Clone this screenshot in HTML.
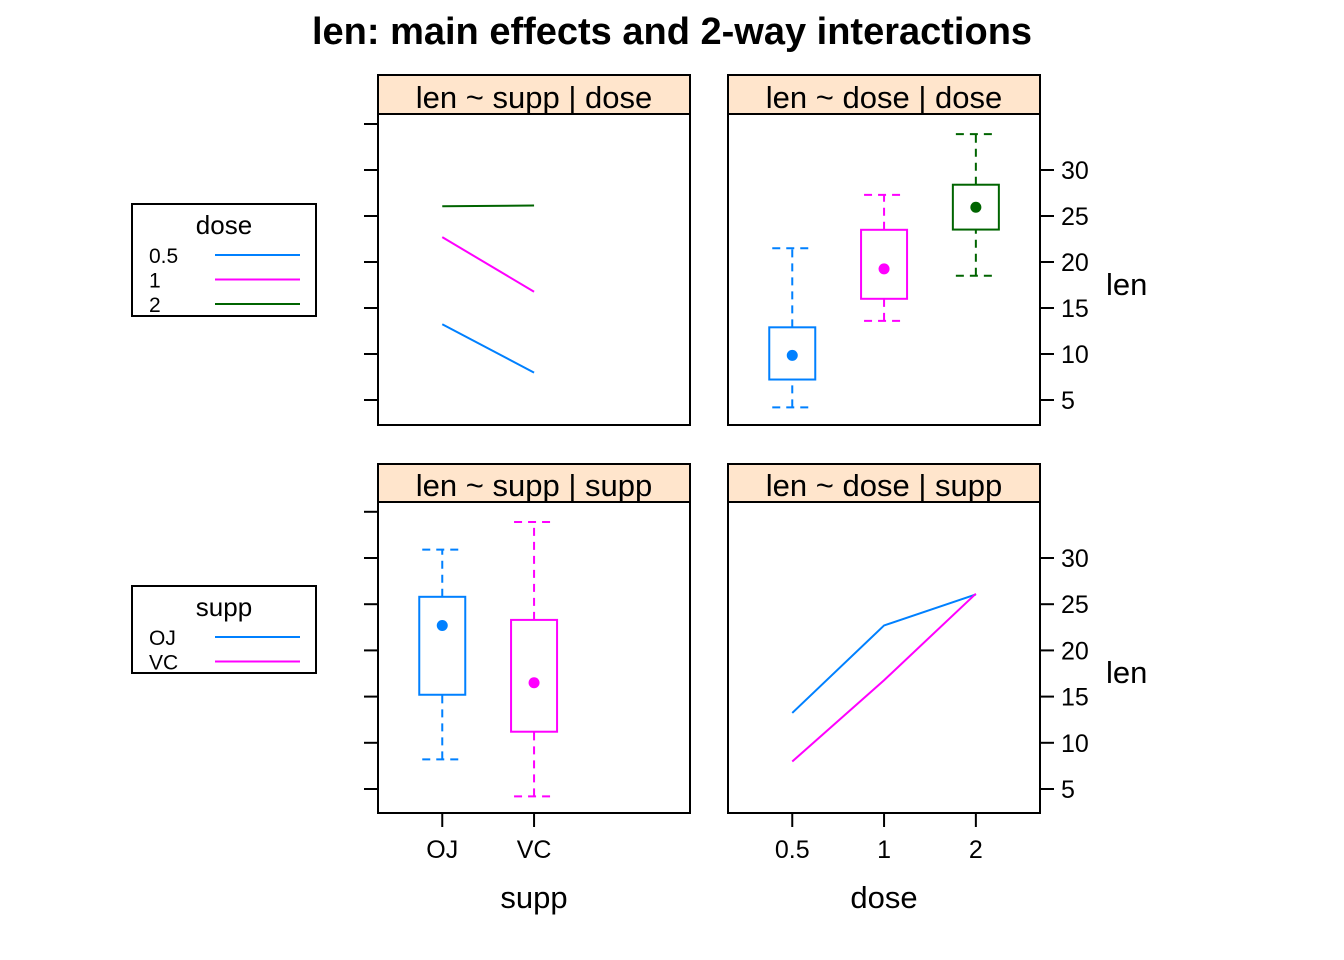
<!DOCTYPE html>
<html><head><meta charset="utf-8"><style>
body{margin:0;background:#fff;}
svg{display:block;font-family:"Liberation Sans",Arial,sans-serif;}
</style></head><body>
<svg id="chart" width="1344" height="960" viewBox="0 0 1344 960"></svg>
<script>
// data
const doseLevels = ["0.5","1","2"];
const suppLevels = ["OJ","VC"];
const meanOJbyDose = [13.23, 22.70, 26.06];
const meanVCbyDose = [7.98, 16.77, 26.14];
const doseBox = [[4.2,7.225,9.85,12.9,21.5],[13.6,16.0,19.25,23.5,27.3],[18.5,23.525,25.95,28.4,33.9]];
const suppBox = [[8.2,15.2,22.7,25.8,30.9],[4.2,11.2,16.5,23.3,33.9]];
const yTicks = [5,10,15,20,25,30];
const yTicksLeft = [5,10,15,20,25,30,35];
const doseColors = ["#0080ff","#ff00ff","#006400"];
const suppColors = ["#0080ff","#ff00ff"];

const svg = document.getElementById('chart');
const NS = "http://www.w3.org/2000/svg";
function mk(tag, attrs, parent, name, text){
  const e = document.createElementNS(NS, tag);
  for (const k in attrs) e.setAttribute(k, attrs[k]);
  
  
  if (text !== undefined) e.textContent = text;
  (parent||svg).appendChild(e);
  return e;
}
const cols = [378, 728], W = 312;
const rows = [{top:75, strip:114, bottom:425}, {top:464, strip:502, bottom:813}];
function yScale(r){
  return v => r===0 ? 400-(v-5)*9.2 : 789-(v-5)*9.24;
}
function xScale(c){ return i => cols[c] + (i+1-0.3)*91.8; }

mk('text',{x:672,y:44,'text-anchor':'middle','font-size':38,'font-weight':'bold'},svg,'chart-title','len: main effects and 2-way interactions');

const titles = [["len ~ supp | dose","len ~ dose | dose"],["len ~ supp | supp","len ~ dose | supp"]];
for (let r=0;r<2;r++) for (let c=0;c<2;c++){
  const R = rows[r], x0 = cols[c];
  const g = mk('g',{},svg,'panel-'+r+'-'+c);
  mk('rect',{x:x0,y:R.top,width:W,height:R.strip-R.top,fill:'#ffe5cc',stroke:'#000','stroke-width':2},g,'strip');
  mk('text',{x:x0+W/2,y:R.strip-6,'text-anchor':'middle','font-size':31},g,'strip-label',titles[r][c]);
  mk('rect',{x:x0,y:R.strip,width:W,height:R.bottom-R.strip,fill:'none',stroke:'#000','stroke-width':2},g,'panel-border');
  const ys = yScale(r);
  if (c===0){
    yTicksLeft.forEach(v=>mk('line',{x1:x0-14,x2:x0,y1:ys(v),y2:ys(v),stroke:'#000','stroke-width':2},g,'y-tick'));
  } else {
    yTicks.forEach(v=>{
      mk('line',{x1:x0+W,x2:x0+W+14,y1:ys(v),y2:ys(v),stroke:'#000','stroke-width':2},g,'y-tick');
      mk('text',{x:x0+W+21,y:ys(v)+9,'font-size':25},g,'y-tick-label',String(v));
    });
    mk('text',{x:1106,y:(r===0?295:683),'font-size':31},g,'y-axis-title','len');
  }
}
const xs0 = xScale(0), xs1 = xScale(1);
suppLevels.forEach((s,i)=>{
  mk('line',{x1:xs0(i),x2:xs0(i),y1:813,y2:827,stroke:'#000','stroke-width':2},svg,'x-tick');
  mk('text',{x:xs0(i),y:858,'text-anchor':'middle','font-size':25},svg,'x-tick-label',s);
});
doseLevels.forEach((s,i)=>{
  mk('line',{x1:xs1(i),x2:xs1(i),y1:813,y2:827,stroke:'#000','stroke-width':2},svg,'x-tick');
  mk('text',{x:xs1(i),y:858,'text-anchor':'middle','font-size':25},svg,'x-tick-label',s);
});
mk('text',{x:534,y:908,'text-anchor':'middle','font-size':31},svg,'x-axis-title','supp');
mk('text',{x:884,y:908,'text-anchor':'middle','font-size':31},svg,'x-axis-title','dose');

const y0 = yScale(0), y1 = yScale(1);
for (let d=0; d<3; d++){
  const vals = [meanOJbyDose[d], meanVCbyDose[d]];
  mk('polyline',{points:vals.map((v,i)=>xs0(i)+','+y0(v)).join(' '),fill:'none',stroke:doseColors[d],'stroke-width':2},svg,'line-dose-'+doseLevels[d]);
}
[meanOJbyDose, meanVCbyDose].forEach((vals,s)=>{
  mk('polyline',{points:vals.map((v,i)=>xs1(i)+','+y1(v)).join(' '),fill:'none',stroke:suppColors[s],'stroke-width':2},svg,'line-supp-'+suppLevels[s]);
});
function box(xc, b, ys, col, name){
  const g = mk('g',{},svg,name);
  const hw = 23, cw = 20;
  mk('line',{x1:xc,x2:xc,y1:ys(b[0]),y2:ys(b[1]),stroke:col,'stroke-width':2,'stroke-dasharray':'8,6'},g,'whisker');
  mk('line',{x1:xc,x2:xc,y1:ys(b[3]),y2:ys(b[4]),stroke:col,'stroke-width':2,'stroke-dasharray':'8,6'},g,'whisker');
  mk('line',{x1:xc-cw,x2:xc+cw,y1:ys(b[0]),y2:ys(b[0]),stroke:col,'stroke-width':2,'stroke-dasharray':'8,6'},g,'whisker-cap');
  mk('line',{x1:xc-cw,x2:xc+cw,y1:ys(b[4]),y2:ys(b[4]),stroke:col,'stroke-width':2,'stroke-dasharray':'8,6'},g,'whisker-cap');
  mk('rect',{x:xc-hw,y:ys(b[3]),width:2*hw,height:ys(b[1])-ys(b[3]),fill:'none',stroke:col,'stroke-width':2},g,'box');
  mk('circle',{cx:xc,cy:ys(b[2]),r:5.5,fill:col},g,'median-dot');
}
doseBox.forEach((b,i)=>box(xs1(i),b,y0,doseColors[i],'box-dose-'+doseLevels[i]));
suppBox.forEach((b,i)=>box(xs0(i),b,y1,suppColors[i],'box-supp-'+suppLevels[i]));

function legend(top, h, title, labels, colors, name){
  const g = mk('g',{},svg,name);
  mk('rect',{x:132,y:top,width:184,height:h,fill:'none',stroke:'#000','stroke-width':2},g,'legend-border');
  mk('text',{x:224,y:top+30,'text-anchor':'middle','font-size':26},g,'legend-title',title);
  labels.forEach((l,i)=>{
    const yy = top+51+i*24.5;
    mk('text',{x:149,y:yy+8,'font-size':21},g,'legend-label',l);
    mk('line',{x1:215,x2:300,y1:yy,y2:yy,stroke:colors[i],'stroke-width':2},g,'legend-line');
  });
}
legend(204,112,'dose',doseLevels,doseColors,'legend-dose');
legend(586,87,'supp',suppLevels,suppColors,'legend-supp');
</script>
</body></html>
